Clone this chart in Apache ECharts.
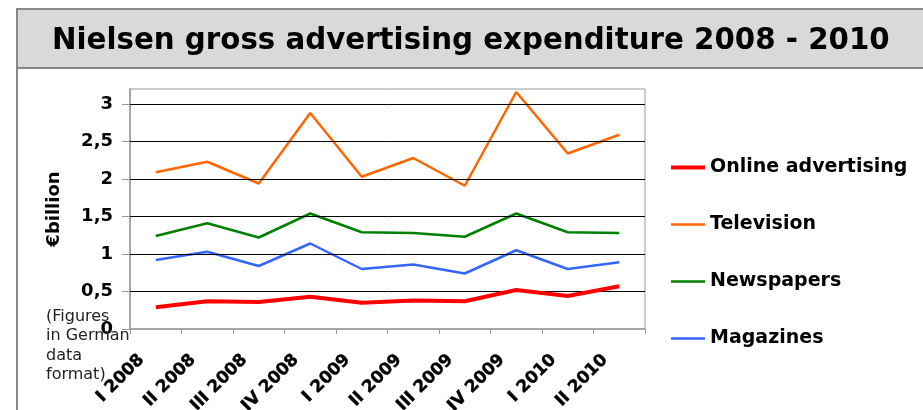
<!DOCTYPE html>
<html>
<head>
<meta charset="utf-8">
<script src="https://cdn.jsdelivr.net/npm/echarts@6/dist/echarts.min.js"></script>
<style>
  html, body { margin: 0; padding: 0; background: #fff; }
  #wrap { position: relative; width: 923px; height: 410px; overflow: hidden; }
  #frame { position: absolute; left: 16px; top: 8px; width: 930px; height: 420px; border: 2px solid #888; box-sizing: border-box; }
  #band { position: absolute; left: 0; top: 0; right: 0; height: 57px; background: #d9d9d9; border-bottom: 2px solid #888; }
  #chart { position: absolute; left: 0; top: 0; width: 923px; height: 410px; }
</style>
</head>
<body>
<div id="wrap">
  <div id="frame"><div id="band"></div></div>
  <div id="chart"></div>
</div>
<script>
const categories = ['I 2008', 'II 2008', 'III 2008', 'IV 2008', 'I 2009', 'II 2009', 'III 2009', 'IV 2009', 'I 2010', 'II 2010'];
const online = [0.29, 0.37, 0.36, 0.43, 0.35, 0.38, 0.37, 0.52, 0.44, 0.57];
const television = [2.09, 2.23, 1.94, 2.88, 2.03, 2.28, 1.91, 3.16, 2.34, 2.59];
const newspapers = [1.24, 1.41, 1.22, 1.54, 1.29, 1.28, 1.23, 1.54, 1.29, 1.28];
const magazines = [0.92, 1.03, 0.84, 1.14, 0.80, 0.86, 0.74, 1.05, 0.80, 0.89];
const gridValues = [0.5, 1, 1.5, 2, 2.5, 3];

const chart = echarts.init(document.getElementById('chart'), null, { renderer: 'canvas' });

chart.setOption({
  animation: false,
  title: [
    {
      text: 'Nielsen gross advertising expenditure 2008 - 2010',
      left: 52, top: 27, padding: 0,
      textStyle: { fontFamily: 'DejaVu Sans', fontWeight: 'bold', fontSize: 29.3, color: '#000' }
    },
    {
      text: '(Figures\nin German\ndata\nformat)',
      left: 46, top: 307, padding: 0,
      textStyle: { fontFamily: 'DejaVu Sans', fontWeight: 'normal', fontSize: 16, lineHeight: 19.5, color: '#222' }
    }
  ],
  grid: { left: 130, top: 89, width: 515, height: 240, show: true, borderColor: '#999', borderWidth: 1, backgroundColor: 'transparent', outerBoundsMode: 'none' },
  legend: {
    orient: 'vertical', left: 664, top: 153, itemWidth: 34, itemHeight: 14, itemGap: 38,
    itemStyle: { opacity: 0 },
    textStyle: { fontFamily: 'DejaVu Sans', fontWeight: 'bold', fontSize: 19, color: '#000' },
    data: [
      { name: 'Online advertising', lineStyle: { width: 4 } },
      { name: 'Television', lineStyle: { width: 2.5 } },
      { name: 'Newspapers', lineStyle: { width: 2.5 } },
      { name: 'Magazines', lineStyle: { width: 2.5 } }
    ]
  },
  xAxis: {
    type: 'category', data: categories, boundaryGap: true,
    axisLine: { lineStyle: { color: '#999', width: 1.5 } },
    axisTick: { show: true, length: 5, lineStyle: { color: '#999', width: 1 } },
    axisLabel: {
      rotate: 45, margin: 14, interval: 0, hideOverlap: false,
      fontSize: 17, fontFamily: 'DejaVu Sans', fontWeight: 'bold', color: '#000',
      textBorderColor: '#000', textBorderWidth: 0.4,
      padding: [0, 20, 0, 0]
    },
    splitLine: { show: false }
  },
  yAxis: {
    type: 'value', min: 0, max: 3.2, interval: 0.5,
    name: '€billion', nameLocation: 'middle', nameRotate: 90, nameGap: 67,
    nameTextStyle: { fontFamily: 'DejaVu Sans', fontWeight: 'bold', fontSize: 18, color: '#000' },
    axisLine: { show: true, lineStyle: { color: '#999', width: 1.5 } },
    axisTick: { show: true, length: 8, lineStyle: { color: '#999' } },
    axisLabel: { fontSize: 18, margin: 17, showMaxLabel: false, fontFamily: 'DejaVu Sans', fontWeight: 'bold', color: '#000', formatter: v => String(v).replace('.', ',') },
    splitLine: { show: false }
  },
  series: [
    { name: 'Online advertising', type: 'line', data: online, symbol: 'none', z: 5, lineStyle: { color: '#ff0000', width: 4 }, itemStyle: { color: '#ff0000' } },
    { name: 'Television', type: 'line', data: television, symbol: 'none', z: 4, lineStyle: { color: '#ff6600', width: 2.5 }, itemStyle: { color: '#ff6600' } },
    { name: 'Newspapers', type: 'line', data: newspapers, symbol: 'none', z: 4, lineStyle: { color: '#008000', width: 2.5 }, itemStyle: { color: '#008000' } },
    { name: 'Magazines', type: 'line', data: magazines, symbol: 'none', z: 4, lineStyle: { color: '#3366ff', width: 2.5 }, itemStyle: { color: '#3366ff' } },
    {
      name: 'grid', type: 'line', data: [], z: 1, silent: true,
      markLine: {
        silent: true, symbol: 'none', label: { show: false },
        lineStyle: { color: '#000', width: 1, type: 'solid' },
        emphasis: { disabled: true },
        data: gridValues.map(v => ({ yAxis: v }))
      }
    }
  ]
});
</script>
</body>
</html>
